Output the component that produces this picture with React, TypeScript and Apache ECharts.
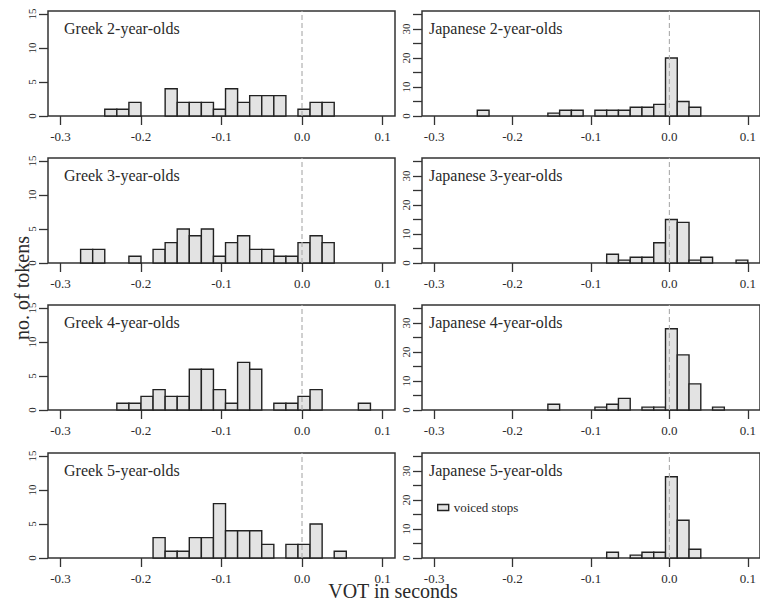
import React, { useEffect, useRef } from "react";
import * as echarts from "echarts";

// Histogram bin edges (VOT in seconds)
const BIN_EDGES = [
  -0.275, -0.26, -0.245, -0.23, -0.215, -0.2, -0.185, -0.17, -0.155, -0.14,
  -0.125, -0.11, -0.095, -0.08, -0.065, -0.05, -0.035, -0.02, -0.005, 0.01,
  0.025, 0.04, 0.055, 0.07, 0.085, 0.1,
];

// Counts per bin (25 bins)
const greek2 = [0, 0, 1, 1, 2, 0, 0, 4, 2, 2, 2, 1, 4, 2, 3, 3, 3, 0, 1, 2, 2, 0, 0, 0, 0];
const greek3 = [2, 2, 0, 0, 1, 0, 2, 3, 5, 4, 5, 1, 3, 4, 2, 2, 1, 1, 3, 4, 3, 0, 0, 0, 0];
const greek4 = [0, 0, 0, 1, 1, 2, 3, 2, 2, 6, 6, 3, 1, 7, 6, 0, 1, 1, 2, 3, 0, 0, 0, 1, 0];
const greek5 = [0, 0, 0, 0, 0, 0, 3, 1, 1, 3, 3, 8, 4, 4, 4, 2, 0, 2, 2, 5, 0, 1, 0, 0, 0];
const japanese2 = [0, 0, 2, 0, 0, 0, 0, 0, 1, 2, 2, 0, 2, 2, 2, 3, 3, 4, 20, 5, 3, 0, 0, 0, 0];
const japanese3 = [0, 0, 0, 0, 0, 0, 0, 0, 0, 0, 0, 0, 0, 3, 1, 2, 2, 7, 15, 14, 1, 2, 0, 0, 1];
const japanese4 = [0, 0, 0, 0, 0, 0, 0, 0, 2, 0, 0, 0, 1, 2, 4, 0, 1, 1, 28, 19, 9, 0, 1, 0, 0];
const japanese5 = [0, 0, 0, 0, 0, 0, 0, 0, 0, 0, 0, 0, 0, 2, 0, 1, 2, 2, 28, 13, 3, 0, 0, 0, 0];

const titles = [
  "Greek 2-year-olds", "Japanese 2-year-olds",
  "Greek 3-year-olds", "Japanese 3-year-olds",
  "Greek 4-year-olds", "Japanese 4-year-olds",
  "Greek 5-year-olds", "Japanese 5-year-olds",
];
const panelCounts = [greek2, japanese2, greek3, japanese3, greek4, japanese4, greek5, japanese5];

const X_TICKS = [-0.3, -0.2, -0.1, 0, 0.1];
const GREEK_Y_TICKS = [0, 5, 10, 15];
const GREEK_Y_LABELS = [0, 5, 10, 15];
const JAP_Y_TICKS = [0, 5, 10, 15, 20, 25, 30, 35];
const JAP_Y_LABELS = [0, 10, 20, 30];

const X_MIN = -0.3155;
const X_MAX = 0.1155;
const GREEK_Y_MAX = 15.44;
const JAP_Y_MAX = 36.2;

const FONT = "'Liberation Serif', 'DejaVu Serif', serif";
const INK = "#2a2a2a";

const COL_LEFT = [48, 422];
const ROW_TOP = [11, 158, 305, 453];
const GRID_W = 347;
const GRID_H = 105;

export default function App() {
  const ref = useRef<HTMLDivElement>(null);

  useEffect(() => {
    if (!ref.current) return;
    const chart = echarts.init(ref.current, null, { renderer: "svg" });

    const grids: any[] = [];
    const xAxes: any[] = [];
    const yAxes: any[] = [];
    const series: any[] = [];
    const graphics: any[] = [];

    panelCounts.forEach((counts, i) => {
      const col = i % 2;
      const row = Math.floor(i / 2);
      const isJap = col === 1;
      const left = COL_LEFT[col];
      const top = ROW_TOP[row];
      const yMax = isJap ? JAP_Y_MAX : GREEK_Y_MAX;

      grids.push({
        left,
        top,
        width: GRID_W,
        height: GRID_H,
        show: true,
        borderColor: "#333",
        borderWidth: 1.5,
        backgroundColor: "transparent",
      });

      xAxes.push({
        type: "value",
        gridIndex: i,
        min: X_MIN,
        max: X_MAX,
        position: "bottom",
        axisLine: { show: false, onZero: false },
        splitLine: { show: false },
        axisTick: {
          show: true,
          length: 9,
          customValues: X_TICKS,
          lineStyle: { color: "#333", width: 1.3 },
        },
        axisLabel: {
          customValues: X_TICKS,
          formatter: (v: number) => v.toFixed(1),
          margin: 14,
          fontSize: 13,
          color: INK,
          fontFamily: FONT,
        },
      });

      yAxes.push({
        type: "value",
        gridIndex: i,
        min: 0,
        max: yMax,
        position: "left",
        axisLine: { show: false, onZero: false },
        splitLine: { show: false },
        axisTick: {
          show: true,
          length: 9,
          customValues: isJap ? JAP_Y_TICKS : GREEK_Y_TICKS,
          lineStyle: { color: "#333", width: 1.3 },
        },
        axisLabel: {
          customValues: isJap ? JAP_Y_LABELS : GREEK_Y_LABELS,
          rotate: 90,
          margin: 11,
          fontSize: 11,
          color: INK,
          fontFamily: FONT,
        },
      });

      const data: number[][] = [];
      counts.forEach((c, b) => {
        if (c > 0) data.push([BIN_EDGES[b], BIN_EDGES[b + 1], c]);
      });

      series.push({
        type: "custom",
        name: "voiced stops",
        xAxisIndex: i,
        yAxisIndex: i,
        data,
        encode: { x: [0, 1], y: 2 },
        renderItem: (params: any, api: any) => {
          const p0 = api.coord([api.value(0), api.value(2)]);
          const p1 = api.coord([api.value(1), 0]);
          return {
            type: "rect",
            shape: { x: p0[0], y: p0[1], width: p1[0] - p0[0], height: p1[1] - p0[1] },
            style: { fill: "#e3e3e3", stroke: "#222", lineWidth: 1.4 },
          };
        },
        z: 2,
      });

      series.push({
        type: "line",
        xAxisIndex: i,
        yAxisIndex: i,
        data: [[0, 0], [0, yMax]],
        symbol: "none",
        lineStyle: { color: "#b0b0b0", width: 1.2, type: [5, 3] },
        z: 5,
        silent: true,
      });

      graphics.push({
        type: "text",
        left: left + (isJap ? 7 : 16),
        top: top + 9,
        style: {
          text: titles[i],
          fontFamily: FONT,
          fontSize: 16,
          fill: INK,
        },
      });
    });

    graphics.push({
      type: "text",
      x: 22,
      y: 288,
      rotation: Math.PI / 2,
      style: {
        text: "no. of tokens",
        fontFamily: FONT,
        fontSize: 20,
        fill: INK,
        align: "center",
        verticalAlign: "middle",
      },
    });
    graphics.push({
      type: "text",
      x: 393,
      y: 591,
      style: {
        text: "VOT in seconds",
        fontFamily: FONT,
        fontSize: 20,
        fill: INK,
        align: "center",
        verticalAlign: "middle",
      },
    });

    chart.setOption({
      animation: false,
      grid: grids,
      xAxis: xAxes,
      yAxis: yAxes,
      series,
      graphic: graphics,
      legend: {
        data: [
          {
            name: "voiced stops",
            icon: "rect",
            itemStyle: { color: "#e3e3e3", borderColor: "#222", borderWidth: 1.4 },
          },
        ],
        selectedMode: false,
        left: 437,
        top: 501,
        itemWidth: 11,
        itemHeight: 6,
        itemGap: 5,
        padding: 0,
        textStyle: { fontFamily: FONT, fontSize: 13, color: INK },
      },
    });

    return () => chart.dispose();
  }, []);

  return (
    <div
      ref={ref}
      style={{ position: "fixed", left: 0, top: 0, width: 760, height: 602, background: "#fff" }}
    />
  );
}
